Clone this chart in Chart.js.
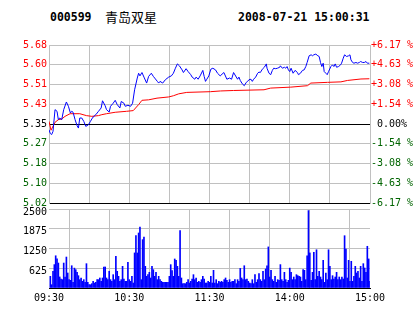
<!DOCTYPE html>
<html lang="zh">
<head>
  <meta charset="UTF-8">
  <title>000599 青岛双星</title>
  <script src="https://cdn.jsdelivr.net/npm/chart.js"></script>
  <style>
    html, body { margin: 0; padding: 0; background: #fff; }
    #wrap { position: relative; width: 414px; height: 314px; overflow: hidden; }
    .t { position: absolute; line-height: 12px; color: #000; white-space: pre; }
    .mono { font: bold 11.5px 'DejaVu Sans Mono', monospace; }
    .cjk { font: 13px 'Noto Sans CJK SC', sans-serif; line-height: 13px; }
    canvas { position: absolute; left: 0; }
  </style>
</head>
<body>
  <div id="wrap">
    <div class="t mono" style="left:50px; top:10px;">000599</div>
    <div class="t cjk" style="left:105px; top:10px;">青岛双星</div>
    <div class="t mono" style="left:238px; top:10px;">2008-07-21 15:00:31</div>
    <canvas id="priceChart" width="414" height="212" style="top:0"></canvas>
    <canvas id="volChart" width="414" height="114" style="top:200px"></canvas>
  </div>

  <script>
    // minutes since 09:30 (lunch break removed) and prices
    const priceMin = [0,1,2,3,4.5,6,7,8,9.5,11,13,14.5,16,17,18,19.5,21,22,23,24.5,26,27.5,29.5,31,32,33,35,37,39,40,
      42,43,45,46,48,49.5,51,53,54,56,57,59,61,62.5,64,66,67,68,69.5,71,73,74.5,76.5,78,79,81,82,83,85,87,
      89.5,91.5,93,94.5,96,97.5,99.5,100.5,102.5,104,106,107,109,110,111.5,113,115,116,117,118,119.5,121,122.5,124.5,126,128,
      130.75,133,135,136.5,138,141,142,143,144.5,146,147.5,148.5,149.5,151,152,153,154.5,156,157,158,159.5,161,162.5,163,
      164.5,165.75,167,168,169.5,170.75,172.5,173,174.5,176,177,178,179,180,181,182.5,184,185.75,186.5,188,189.5,190.75,
      192,193,194.5,196,197,198,199.5,201,202,203,204,205,205.75,207,208,209,210.75,212,213,214,215,216.5,218,218.75,
      220,221,222.5,224,225,225.75,227,228,229.5,230.75,232,233,234.5,235.75,237,238,239.5];
    const price = [5.326,5.310,5.306,5.319,5.410,5.403,5.368,5.375,5.368,5.410,5.442,5.424,5.396,5.403,5.399,5.368,5.343,5.333,5.375,5.375,5.361,5.340,5.347,5.361,5.371,5.379,5.389,5.403,5.417,5.447,
      5.426,5.410,5.400,5.424,5.437,5.449,5.431,5.417,5.444,5.437,5.424,5.428,5.424,5.437,5.493,5.542,5.562,5.551,5.565,5.546,5.521,5.549,5.562,5.549,5.542,5.528,5.521,5.528,5.521,5.535,
      5.546,5.551,5.562,5.583,5.601,5.593,5.576,5.565,5.581,5.569,5.556,5.546,5.537,5.546,5.537,5.551,5.574,5.549,5.528,5.537,5.551,5.579,5.583,5.576,5.562,5.551,
      5.565,5.537,5.542,5.537,5.565,5.537,5.546,5.532,5.518,5.510,5.524,5.528,5.535,5.537,5.528,5.537,5.546,5.562,5.567,5.565,5.579,5.587,5.601,5.583,
      5.562,5.556,5.574,5.583,5.581,5.583,5.587,5.593,5.583,5.587,5.583,5.590,5.576,5.569,5.583,5.562,5.574,5.565,5.556,5.562,5.574,5.576,
      5.590,5.607,5.635,5.639,5.635,5.639,5.642,5.635,5.632,5.607,5.590,5.604,5.569,5.562,5.556,5.569,5.590,5.597,5.590,5.601,5.587,5.590,5.597,5.604,
      5.625,5.639,5.632,5.635,5.639,5.618,5.607,5.604,5.607,5.604,5.607,5.611,5.607,5.607,5.611,5.604,5.604];

    const avgMin = [0,1.5,4.5,7,9.5,12,15.75,23,28,32,37,39.5,43,49.5,58,63,67,69.5,74.5,80.75,89.5,93,97,103,120.75,128.25,
      138,160.75,165.75,180.75,193.25,195.75,208.25,218.25,223.25,233.25,239.5];
    const avgPrice = [5.361,5.324,5.357,5.368,5.371,5.382,5.393,5.393,5.385,5.382,5.385,5.389,5.393,5.399,5.403,5.406,5.431,5.449,5.451,5.458,5.463,5.468,5.476,5.482,5.485,5.488,
      5.490,5.493,5.500,5.504,5.510,5.521,5.524,5.526,5.532,5.538,5.539];

    // volume per minute (lots)
    const volume = [370,105,530,740,1020,920,790,350,285,265,790,348,980,475,264,243,705,180,630,580,496,390,264,317,211,264,180,770,180,105,
      105,137,211,158,180,264,264,317,211,317,665,665,317,264,530,264,211,422,264,1000,528,369,211,264,686,285,211,211,810,264,
      211,369,158,1110,1655,1108,1741,1931,264,1530,1614,686,369,422,496,317,686,580,369,496,264,369,264,211,180,180,180,180,180,369,
      739,549,369,918,876,686,369,1815,317,137,137,137,180,264,158,211,285,422,264,317,180,211,180,264,369,285,158,158,211,180,
      369,158,560,158,264,137,211,180,211,
      180,264,317,243,180,264,180,211,211,264,137,264,211,620,317,264,705,264,285,211,158,137,264,137,422,180,264,454,264,211,
      528,264,601,705,1300,348,559,264,211,369,180,264,243,740,264,211,496,264,180,243,630,496,264,348,264,422,390,369,348,211,
      580,559,264,1020,2450,1110,243,496,1130,264,1210,369,528,348,264,876,180,475,264,1210,686,264,390,285,348,496,264,348,264,348,
      285,1655,1235,317,876,211,845,211,369,686,475,528,317,686,211,770,633,496,1320,920,211];

    const priceTicks = [5.02, 5.1025, 5.185, 5.2675, 5.35, 5.4325, 5.515, 5.5975, 5.68];
    const priceLabels = ['5.02', '5.10', '5.18', '5.27', '5.35', '5.43', '5.51', '5.60', '5.68'];
    const pctLabels = ['-6.17 %', '-4.63 %', '-3.08 %', '-1.54 %', ' 0.00%', '+1.54 %', '+3.08 %', '+4.63 %', '+6.17 %'];
    const volTicks = [0, 625, 1250, 1875, 2500];
    const volLabels = ['', '625', '1250', '1875', '2500'];
    const timeLabels = ['09:30', '10:30', '11:30', '14:00', '15:00'];

    const GRID = '#c0c0c0';
    const RED = '#ff0000';
    const GREEN = '#006400';
    const baseIdx = 4;

    Chart.defaults.font.family = "'DejaVu Sans Mono', monospace";
    Chart.defaults.font.size = 10;
    Chart.defaults.color = '#000';
    Chart.defaults.animation = false;

    function tickColor(ctx) {
      if (ctx.index === baseIdx) return '#000';
      return ctx.index > baseIdx ? RED : GREEN;
    }

    new Chart(document.getElementById('priceChart'), {
      type: 'line',
      data: {
        datasets: [
          {
            data: priceMin.map((m, i) => ({ x: m, y: price[i] })),
            borderColor: '#0000ff', borderWidth: 1, pointRadius: 0, tension: 0
          },
          {
            data: avgMin.map((m, i) => ({ x: m, y: avgPrice[i] })),
            borderColor: RED, borderWidth: 1, pointRadius: 0, tension: 0
          }
        ]
      },
      options: {
        responsive: false,
        layout: { padding: { top: 45, bottom: 9, left: 0, right: 0 } },
        plugins: { legend: { display: false }, tooltip: { enabled: false } },
        scales: {
          x: {
            type: 'linear', min: 0, max: 240,
            ticks: { stepSize: 30, display: false },
            grid: { color: GRID, drawTicks: false },
            border: { color: '#000' },
            afterFit: s => { s.height = 0; }
          },
          y: {
            min: 5.02, max: 5.68,
            afterBuildTicks: s => { s.ticks = priceTicks.map(v => ({ value: v })); },
            ticks: { callback: (v, i) => priceLabels[i], color: tickColor, padding: 2 },
            grid: { color: c => c.index === baseIdx ? '#000' : GRID, drawTicks: false },
            border: { color: GRID },
            afterFit: s => { s.width = 49; }
          },
          yr: {
            position: 'right', min: 5.02, max: 5.68,
            afterBuildTicks: s => { s.ticks = priceTicks.map(v => ({ value: v })); },
            ticks: { callback: (v, i) => pctLabels[i], color: tickColor, padding: 1 },
            grid: { drawOnChartArea: false, drawTicks: false },
            border: { color: GRID },
            afterFit: s => { s.width = 44; }
          }
        }
      }
    });

    new Chart(document.getElementById('volChart'), {
      type: 'bar',
      data: {
        datasets: [{
          data: volume.map((v, i) => ({ x: i + 1, y: v })),
          backgroundColor: '#0000ff',
          barThickness: 1
        }]
      },
      options: {
        responsive: false,
        layout: { padding: { top: 9, bottom: 6, left: 0, right: 44 } },
        plugins: { legend: { display: false }, tooltip: { enabled: false } },
        scales: {
          x: {
            type: 'linear', min: 0, max: 240, offset: false,
            afterBuildTicks: s => { s.ticks = [0, 30, 60, 90, 120, 150, 180, 210, 240].map(v => ({ value: v })); },
            ticks: { callback: v => (v % 60 === 0 ? timeLabels[v / 60] : ''), maxRotation: 0, autoSkip: false, padding: 4 },
            grid: { color: GRID, drawTicks: false },
            border: { color: '#000' },
            afterFit: s => { s.height = 20; }
          },
          y: {
            min: 0, max: 2500,
            afterBuildTicks: s => { s.ticks = volTicks.map(v => ({ value: v })); },
            ticks: { callback: (v, i) => volLabels[i], padding: 2, labelOffset: 3 },
            grid: { color: GRID, drawTicks: false },
            border: { display: false },
            afterFit: s => { s.width = 49; }
          }
        }
      }
    });
  </script>
</body>
</html>
